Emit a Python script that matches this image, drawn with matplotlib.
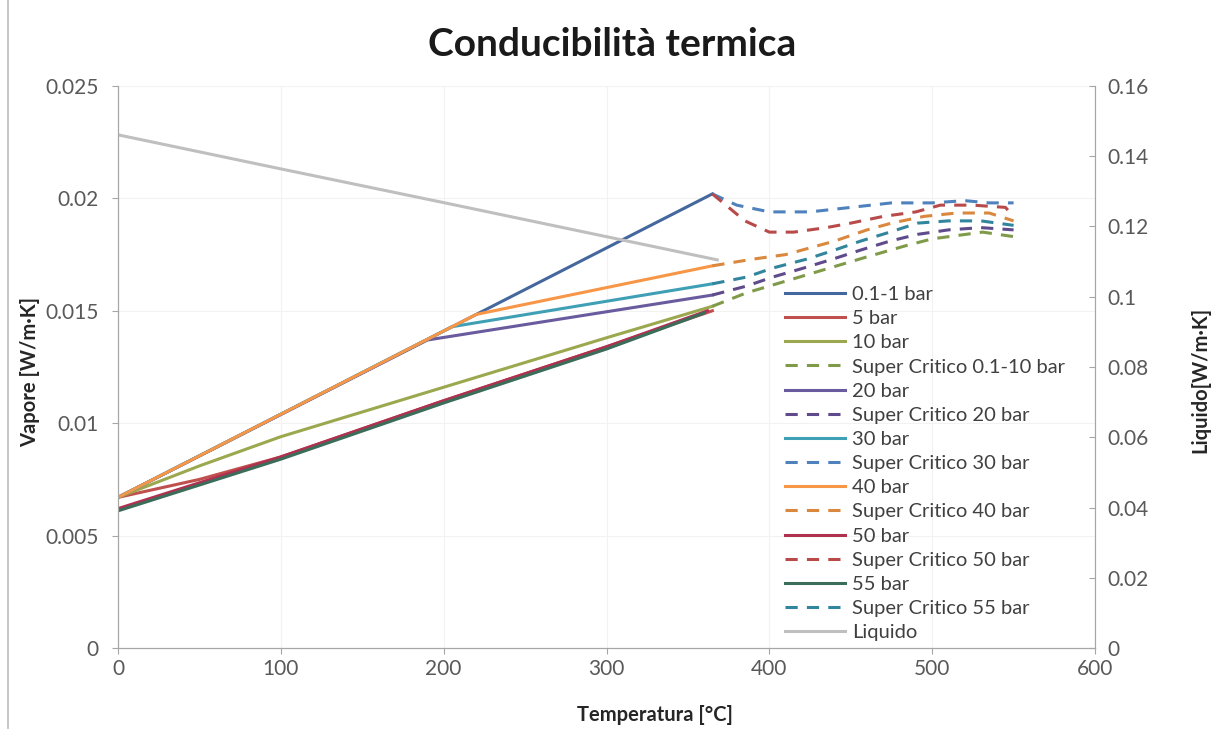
import numpy as np
import matplotlib
matplotlib.use("Agg")
import matplotlib.pyplot as plt
from matplotlib.ticker import FuncFormatter, MultipleLocator
from matplotlib.lines import Line2D

plt.rcParams['font.family'] = ['Lato', 'DejaVu Sans']

### data ###
# subcritical vapour, [°C] / [W/m-K]
T_01 = [0, 365]
k_01 = [0.0067, 0.0202]
T_5 = [0, 50, 100, 200, 300, 365]
k_5 = [0.0067, 0.0075, 0.0085, 0.0110, 0.0134, 0.0150]
T_10 = [0, 50, 100, 200, 300, 365]
k_10 = [0.0067, 0.0081, 0.0094, 0.0116, 0.0138, 0.0152]
T_20 = [0, 190, 365]
k_20 = [0.0067, 0.0137, 0.0157]
T_30 = [0, 205, 365]
k_30 = [0.0067, 0.01429, 0.0162]
T_40 = [0, 220, 365]
k_40 = [0.0067, 0.01484, 0.0170]
T_50 = [0, 100, 200, 300, 362]
k_50 = [0.0062, 0.0085, 0.0110, 0.0134, 0.0150]
T_55 = [0, 100, 200, 300, 360]
k_55 = [0.0061, 0.0084, 0.0109, 0.0133, 0.0149]

# supercritical
Tsc_10 = [365, 386, 423, 460, 484, 500, 531, 550]
ksc_10 = [0.0152, 0.0158, 0.0166, 0.0174, 0.0179, 0.0182, 0.0185, 0.0183]
Tsc_20 = [365, 386, 402, 421, 439, 456, 474, 491, 510, 530, 550]
ksc_20 = [0.0157, 0.0161, 0.0165, 0.0169, 0.0173, 0.0177, 0.0181, 0.0184, 0.0186, 0.0187, 0.0186]
Tsc_30 = [365, 380, 400, 425, 450, 475, 500, 520, 535, 550]
ksc_30 = [0.0202, 0.0197, 0.0194, 0.0194, 0.0196, 0.0198, 0.0198, 0.0199, 0.0198, 0.0198]
Tsc_40 = [365, 390, 410, 425, 440, 460, 475, 495, 515, 535, 550]
ksc_40 = [0.0170, 0.0173, 0.0175, 0.0178, 0.0181, 0.0186, 0.0189, 0.0192, 0.01935, 0.01935, 0.0190]
Tsc_50 = [365, 385, 400, 415, 435, 450, 470, 490, 505, 525, 545, 550]
ksc_50 = [0.0202, 0.0190, 0.0185, 0.0185, 0.0187, 0.0189, 0.0192, 0.0194, 0.0197, 0.0197, 0.0196, 0.0192]
Tsc_55 = [365, 386, 402, 423, 440, 456, 474, 491, 510, 530, 550]
ksc_55 = [0.0162, 0.0165, 0.0169, 0.0173, 0.0177, 0.0181, 0.0185, 0.0189, 0.0190, 0.0190, 0.0188]

# liquid (right axis)
T_liq = [0, 100, 200, 300, 368]
k_liq = [0.1461, 0.1364, 0.1268, 0.1171, 0.1105]
###################################

series = [
    ("0.1-1 bar", T_01, k_01, "#44679E", "-"),
    ("5 bar", T_5, k_5, "#C0504D", "-"),
    ("10 bar", T_10, k_10, "#9BA84E", "-"),
    ("Super Critico 0.1-10 bar", Tsc_10, ksc_10, "#7F9A48", "--"),
    ("20 bar", T_20, k_20, "#6A5A9E", "-"),
    ("Super Critico 20 bar", Tsc_20, ksc_20, "#5F4B8B", "--"),
    ("30 bar", T_30, k_30, "#3FA0B5", "-"),
    ("Super Critico 30 bar", Tsc_30, ksc_30, "#4F81BD", "--"),
    ("40 bar", T_40, k_40, "#F79646", "-"),
    ("Super Critico 40 bar", Tsc_40, ksc_40, "#D9883E", "--"),
    ("50 bar", T_50, k_50, "#B03050", "-"),
    ("Super Critico 50 bar", Tsc_50, ksc_50, "#B84A4A", "--"),
    ("55 bar", T_55, k_55, "#3B6E5A", "-"),
    ("Super Critico 55 bar", Tsc_55, ksc_55, "#31859C", "--"),
]

fig = plt.figure(figsize=(12.2, 7.29), dpi=100)
ax = fig.add_axes([118/1220, 1 - 648/729, (1095-118)/1220, (648-86)/729])
ax2 = ax.twinx()

grey = "#595959"
handles = []
for name, T, k, c, ls in series:
    if ls == "--":
        ln, = ax.plot(T, k, color=c, lw=2.2, dashes=(4, 3), label=name)
    else:
        ln, = ax.plot(T, k, color=c, lw=2.2, label=name)
    handles.append(ln)

liq, = ax2.plot(T_liq, k_liq, color="#BFBFBF", lw=2.2, label="Liquido")
handles.append(liq)

ax.set_xlim(0, 600)
ax.set_ylim(0, 0.025)
ax2.set_ylim(0, 0.16)
ax.xaxis.set_major_locator(MultipleLocator(100))
ax.yaxis.set_major_locator(MultipleLocator(0.005))
ax2.yaxis.set_major_locator(MultipleLocator(0.02))
fmt = FuncFormatter(lambda v, p: f"{round(v, 4):g}")
ax.yaxis.set_major_formatter(fmt)
ax2.yaxis.set_major_formatter(fmt)

ax.grid(True, color="#F2F2F2", lw=0.8)
ax.set_axisbelow(True)

for a in (ax, ax2):
    for s in a.spines.values():
        s.set_color("#A6A6A6")
    a.spines["top"].set_visible(False)
ax.tick_params(axis="y", direction="out", length=4, color="#A6A6A6", pad=10,
               labelsize=15, labelcolor=grey)
ax.tick_params(axis="x", direction="out", length=4, color="#A6A6A6", pad=4,
               labelsize=15, labelcolor=grey)
ax2.tick_params(axis="y", direction="in", length=4, color="#A6A6A6", pad=9,
                labelsize=15, labelcolor=grey)

fig.text(612/1220, 1 - 45/729, "Conducibilità termica", ha="center", va="center",
         fontsize=28, fontweight="bold", color="#1A1A1A")
fig.text(30/1220, 1 - 372/729, "Vapore [W/m·K]", rotation=90, ha="center", va="center",
         fontsize=14.5, fontweight="bold", color="#262626")
fig.text(1200/1220, 1 - 380/729, "Liquido[W/m·K]", rotation=90, ha="center", va="center",
         fontsize=14.5, fontweight="bold", color="#262626")
fig.text(655/1220, 1 - 715/729, "Temperatura [°C]", ha="center", va="center",
         fontsize=14.5, fontweight="bold", color="#262626")

leg = ax2.legend(handles=handles, loc="upper left", bbox_to_anchor=(785/1220, 1 - 286/729),
                 bbox_transform=fig.transFigure, frameon=False, fontsize=14.5,
                 handlelength=3.0, handletextpad=0.35, labelspacing=0.35,
                 borderpad=0, borderaxespad=0)
for t in leg.get_texts():
    t.set_color("#404040")

# thin border on the left side of the picture
fig.add_artist(Line2D([8/1220, 8/1220], [0, 1], transform=fig.transFigure,
                      color="#BFBFBF", lw=1.2))

fig.savefig("out.png", dpi=100)
